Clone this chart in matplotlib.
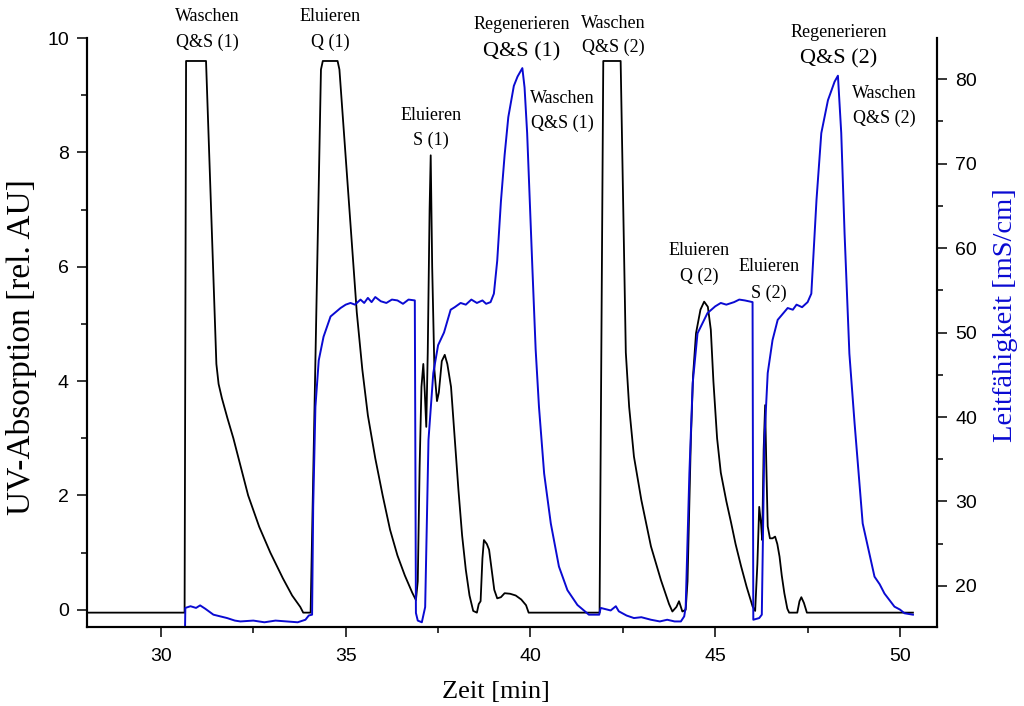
"""
Chromatogram: UV absorption and conductivity over time (two y-axes).
"""
import matplotlib
matplotlib.use('Agg')
import matplotlib.pyplot as plt
from matplotlib.ticker import MultipleLocator

# UV absorption trace (black, left axis)
uv_time = [28.0, 30.64, 30.68, 31.22, 31.50, 31.56, 31.65, 31.8, 31.96, 32.2, 32.36, 32.66, 32.96,
           33.3, 33.55, 33.77, 33.85, 34.05, 34.33, 34.38, 34.78, 34.83, 35.1, 35.3, 35.45, 35.6,
           35.8, 36.0, 36.2, 36.4, 36.6, 36.8, 36.9, 36.95, 37.0, 37.05, 37.1, 37.14, 37.18, 37.22,
           37.27, 37.3, 37.34, 37.4, 37.47, 37.52, 37.6, 37.68, 37.75, 37.85, 37.95, 38.05, 38.15,
           38.25, 38.35, 38.45, 38.55, 38.6, 38.65, 38.7, 38.74, 38.82, 38.88, 38.95, 39.02, 39.1,
           39.2, 39.3, 39.45, 39.6, 39.75, 39.88, 39.95, 41.87, 41.97, 42.44, 42.58, 42.67, 42.8,
           43.0, 43.26, 43.53, 43.75, 43.84, 43.95, 44.02, 44.07, 44.11, 44.2, 44.25, 44.34, 44.4,
           44.48, 44.6, 44.7, 44.8, 44.88, 44.95, 45.05, 45.15, 45.3, 45.43, 45.55, 45.7, 45.85,
           46.01, 46.08, 46.14, 46.19, 46.24, 46.27, 46.31, 46.35, 46.38, 46.42, 46.48, 46.55,
           46.62, 46.68, 46.74, 46.8, 46.87, 46.95, 47.0, 47.22, 47.28, 47.33, 47.4, 47.48, 50.35]
uv_abs = [-0.05, -0.05, 9.6, 9.6, 4.3, 3.95, 3.7, 3.35, 3.0, 2.4, 2.0, 1.45, 1.0,
          0.55, 0.25, 0.05, -0.05, -0.05, 9.45, 9.6, 9.6, 9.45, 7.0, 5.2, 4.2, 3.4,
          2.65, 2.0, 1.4, 0.95, 0.6, 0.3, 0.17, 0.5, 2.5, 3.9, 4.3, 3.8, 3.2, 4.5,
          7.0, 7.95, 6.0, 4.2, 3.65, 3.8, 4.35, 4.46, 4.3, 3.9, 3.0, 2.1, 1.3,
          0.7, 0.25, -0.02, -0.05, 0.1, 0.15, 0.9, 1.22, 1.15, 1.05, 0.7, 0.35, 0.2,
          0.22, 0.29, 0.28, 0.25, 0.18, 0.08, -0.05, -0.05, 9.6, 9.6, 4.5, 3.55, 2.68,
          1.92, 1.11, 0.52, 0.1, -0.03, 0.05, 0.15, 0.05, -0.03, 0.0, 0.5, 2.97, 4.1,
          4.84, 5.25, 5.39, 5.3, 4.9, 4.0, 3.0, 2.4, 1.9, 1.52, 1.15, 0.76, 0.4,
          0.06, -0.02, 0.8, 1.8, 1.5, 1.22, 2.8, 3.58, 2.6, 1.46, 1.25, 1.25,
          1.28, 1.15, 0.93, 0.6, 0.29, 0.02, -0.05, -0.05, 0.15, 0.22, 0.12, -0.05, -0.05]

# Conductivity trace (blue, right axis)
cond_time = [30.65, 30.66, 30.8, 30.95, 31.06, 31.2, 31.42, 31.6, 31.79, 32.0, 32.15, 32.5, 32.8,
             33.1, 33.4, 33.7, 33.91, 34.0, 34.09, 34.12, 34.18, 34.27, 34.4, 34.59, 34.86, 35.0,
             35.13, 35.25, 35.4, 35.5, 35.6, 35.7, 35.8, 35.95, 36.1, 36.25, 36.4, 36.55, 36.7,
             36.87, 36.9, 36.95, 37.06, 37.15, 37.24, 37.37, 37.5, 37.66, 37.84, 37.95, 38.11,
             38.25, 38.4, 38.55, 38.7, 38.8, 38.92, 39.01, 39.1, 39.2, 39.3, 39.4, 39.55, 39.65,
             39.78, 39.84, 39.91, 40.05, 40.14, 40.23, 40.37, 40.55, 40.77, 41.0, 41.27, 41.58,
             41.86, 41.9, 42.17, 42.31, 42.39, 42.6, 42.8, 43.0, 43.26, 43.5, 43.7, 43.9, 44.07,
             44.16, 44.2, 44.3, 44.39, 44.52, 44.79, 45.0, 45.15, 45.3, 45.51, 45.65, 45.8, 46.01,
             46.03, 46.19, 46.26, 46.33, 46.42, 46.55, 46.69, 46.96, 47.1, 47.2, 47.35, 47.5,
             47.6, 47.74, 47.87, 48.05, 48.23, 48.32, 48.41, 48.5, 48.63, 48.77, 48.99, 49.31,
             49.45, 49.58, 49.85, 50.0, 50.12, 50.35]
cond_ms = [14.5, 17.4, 17.6, 17.4, 17.7, 17.3, 16.6, 16.4, 16.2, 15.9, 15.8, 15.9, 15.7,
           15.9, 15.8, 15.7, 16.0, 16.5, 16.6, 29.4, 41.2, 46.7, 49.5, 51.9, 52.9, 53.3,
           53.5, 53.3, 53.9, 53.5, 54.1, 53.6, 54.2, 53.7, 53.5, 53.9, 53.8, 53.4, 53.9,
           53.8, 16.8, 15.9, 15.7, 17.5, 37.3, 45.2, 48.5, 50.0, 52.7, 53.0, 53.5,
           53.3, 53.9, 53.5, 53.8, 53.4, 53.6, 54.6, 58.5, 65.5, 71.0, 75.5, 79.2, 80.3,
           81.3, 79.0, 73.6, 57.8, 48.0, 41.2, 33.3, 27.4, 22.3, 19.5, 17.75, 16.6,
           16.6, 17.4, 17.1, 17.6, 17.0, 16.5, 16.2, 16.3, 16.0, 15.8, 16.0, 15.8, 15.8,
           16.4, 17.5, 33.3, 44.0, 49.9, 52.3, 53.1, 53.5, 53.3, 53.6, 53.9, 53.8, 53.6,
           16.0, 16.2, 16.6, 37.3, 45.2, 49.1, 51.5, 52.9, 52.7, 53.3, 53.0, 53.6,
           54.6, 65.7, 73.6, 77.5, 79.7, 80.4, 73.6, 61.7, 47.5, 39.3, 27.4, 21.1,
           20.2, 19.1, 17.55, 17.2, 16.77, 16.6]

# Step annotations: (line1, line2, x, y of line1, y of line2, size of line2)
step_labels = [
    ("Waschen", "Q&S (1)", 31.25, 10.37, 9.93, 13),
    ("Eluieren", "Q (1)", 34.59, 10.37, 9.93, 13),
    ("Eluieren", "S (1)", 37.3, 8.65, 8.22, 13),
    ("Regenerieren", "Q&S (1)", 39.76, 10.23, 9.76, 16),
    ("Waschen", "Q&S (1)", 40.87, 8.95, 8.51, 13),
    ("Waschen", "Q&S (2)", 42.25, 10.26, 9.83, 13),
    ("Eluieren", "Q (2)", 44.56, 6.29, 5.84, 13),
    ("Eluieren", "S (2)", 46.46, 6.0, 5.54, 13),
    ("Regenerieren", "Q&S (2)", 48.33, 10.1, 9.63, 16),
    ("Waschen", "Q&S (2)", 49.57, 9.04, 8.6, 13),
]

BLUE = '#0a0ad2'
SERIF = 'Liberation Serif'
SANS = 'Liberation Sans'

fig = plt.figure(figsize=(10.24, 7.06), dpi=100)
ax = fig.add_axes([0.085, 0.112, 0.83, 0.834])
ax2 = ax.twinx()

ax.plot(uv_time, uv_abs, color='black', linewidth=1.3)
ax2.plot(cond_time, cond_ms, color=BLUE, linewidth=1.4)

ax.set_xlim(28, 51)
ax.set_ylim(-0.3, 10)
ax2.set_ylim(15.15, 84.85)

# Ticks
ax.xaxis.set_major_locator(MultipleLocator(5))
ax.xaxis.set_minor_locator(MultipleLocator(2.5))
ax.yaxis.set_major_locator(MultipleLocator(2))
ax.yaxis.set_minor_locator(MultipleLocator(1))
ax2.yaxis.set_major_locator(MultipleLocator(10))
ax2.yaxis.set_minor_locator(MultipleLocator(5))

for a in (ax, ax2):
    a.tick_params(which='major', direction='out', length=7, width=1.1, pad=6, labelsize=14)
    a.tick_params(which='minor', direction='out', length=4, width=1.1)
    for lbl in a.get_xticklabels() + a.get_yticklabels():
        lbl.set_fontfamily(SANS)
    for side in ('left', 'right', 'bottom'):
        a.spines[side].set_linewidth(1.5)
    a.spines['top'].set_visible(False)
ax.tick_params(axis='x', which='major', pad=8)

# Axis labels
fig.text(22 / 1024, 1 - 347 / 706, 'UV-Absorption [rel. AU]', rotation=90, ha='center',
         va='center', fontsize=24, family=SERIF)
fig.text(1005 / 1024, 1 - 315 / 706, 'Leitfähigkeit [mS/cm]', rotation=90, ha='center',
         va='center', fontsize=20.5, family=SERIF, color=BLUE)
fig.text(496 / 1024, 1 - 692 / 706, 'Zeit [min]', ha='center', va='center',
         fontsize=19, family=SERIF)

# Step annotations
for top, bottom, x, y1, y2, size in step_labels:
    ax.text(x, y1, top, ha='center', va='center', fontsize=13, family=SERIF, clip_on=False)
    ax.text(x, y2, bottom, ha='center', va='center', fontsize=size, family=SERIF, clip_on=False)

fig.savefig('out.png', dpi=100)
plt.close(fig)
